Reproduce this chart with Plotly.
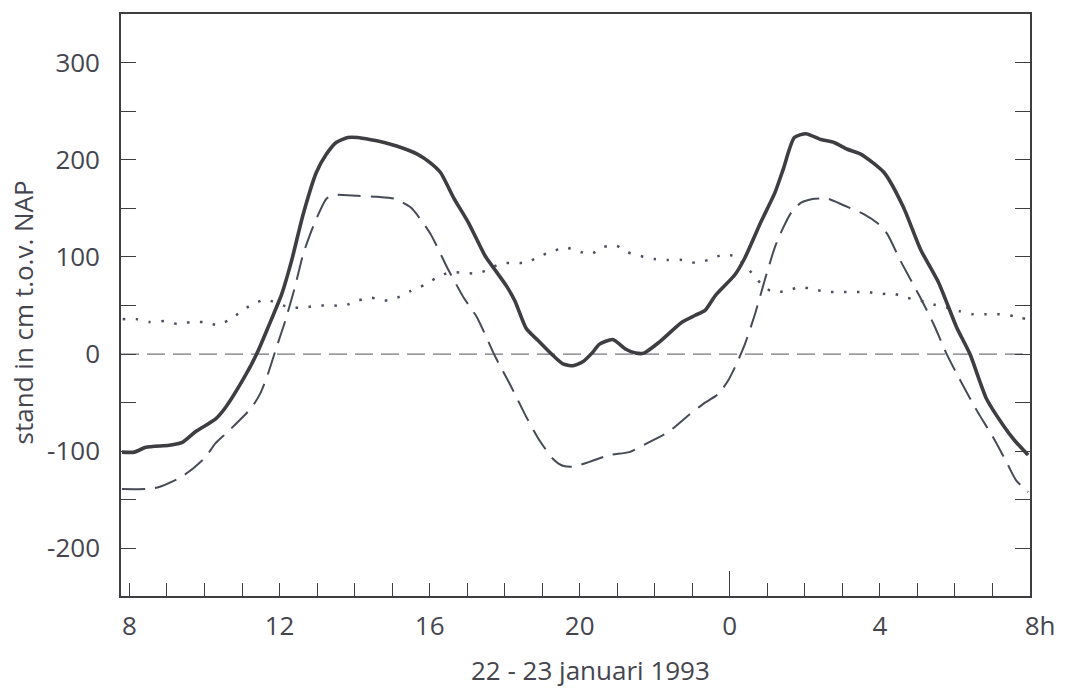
import plotly.graph_objects as go

# Hours since 22 Jan 1993 08:00 (0 = 8h, 16 = midnight, 24 = 8h next day)
hours_range = [-0.225, 24.0]
tick_hours = [0, 4, 8, 12, 16, 20, 24]
tick_labels = ["8", "12", "16", "20", "0", "4", "\u00a0\u00a0\u00a08h"]

# Measured water level (cm relative to NAP)
measured_h = [-0.2, 0.13, 0.44, 1.06, 1.41, 1.76, 2.29, 2.56, 3.09, 3.39, 3.70, 4.06,
              4.32, 4.63, 4.98, 5.25, 5.51, 5.82, 6.08, 6.79, 7.14, 7.67, 8.02, 8.29,
              8.64, 9.04, 9.48, 9.70, 10.05, 10.27, 10.58, 10.89, 11.29, 11.55, 11.82,
              12.08, 12.35, 12.52, 12.88, 13.23, 13.49, 13.71, 14.11, 14.73, 15.08,
              15.34, 15.61, 16.14, 16.40, 16.84, 17.20, 17.42, 17.72, 18.03, 18.43,
              18.78, 19.13, 19.49, 20.11, 20.63, 21.08, 21.56, 22.04, 22.40, 22.84,
              23.28, 23.59, 23.95]
measured_cm = [-101, -101, -96, -94, -91, -80, -67, -55, -22, 0, 28, 62,
               96, 144, 187, 206, 218, 223, 223, 218, 214, 206, 197, 187,
               161, 135, 101, 89, 70, 55, 26, 14, -1.5, -10, -12,
               -8, 2, 10, 15, 5, 1, 1, 12, 33, 40,
               45, 60, 82, 99, 137, 166, 190, 223, 227, 221,
               218, 211, 206, 187, 151, 108, 74, 28, 0, -46,
               -73, -89, -104]

# Astronomical tide (cm relative to NAP)
tide_h = [-0.2, 0.44, 0.79, 1.32, 1.59, 2.03, 2.29, 2.65, 3.26, 3.48, 3.66, 3.92,
          4.15, 4.41, 4.63, 4.85, 5.07, 5.25, 5.47, 6.08, 6.61, 7.06, 7.50, 8.02,
          8.47, 8.91, 9.26, 9.74, 10.14, 10.58, 10.93, 11.29, 11.55, 11.82, 12.26,
          12.79, 13.32, 13.84, 14.37, 14.90, 15.34, 15.70, 15.96, 16.18, 16.40,
          16.67, 16.93, 17.20, 17.42, 17.64, 17.90, 18.25, 18.61, 19.05, 19.58,
          19.93, 20.19, 20.55, 21.08, 21.43, 21.78, 22.14, 22.58, 23.02, 23.37,
          23.63, 23.95]
tide_cm = [-139, -139, -137, -128, -121, -106, -92, -79, -55, -41, -24, 7,
           34, 69, 103, 127, 147, 160, 164, 163, 162, 160, 151, 124,
           89, 58, 38, -2, -31, -65, -89, -108, -115, -116, -111,
           -104, -101, -91, -80, -63, -50, -41, -27, -10, 10,
           41, 76, 110, 130, 146, 156, 160, 160, 153, 144,
           135, 124, 96, 58, 31, 0, -27, -58, -86, -111,
           -130, -142]

# Surge (cm)
surge_h = [-0.18, 0.18, 0.53, 0.93, 1.28, 1.63, 1.98, 2.34, 2.65, 2.95, 3.26, 3.62,
           4.28, 4.67, 5.03, 5.38, 5.73, 6.08, 6.44, 6.79, 7.14, 7.50, 7.85, 8.16,
           8.51, 8.82, 9.17, 9.52, 9.88, 10.23, 10.58, 10.93, 11.24, 11.60, 11.95,
           12.30, 12.61, 12.96, 13.27, 13.62, 13.98, 14.33, 14.73, 15.08, 15.43,
           15.79, 16.14, 16.36, 16.62, 16.89, 17.15, 17.51, 17.86, 18.21, 18.56,
           18.96, 19.31, 19.66, 20.02, 20.37, 20.72, 21.08, 21.43, 21.78, 22.14,
           22.49, 22.84, 23.19, 23.59, 23.9]
surge_cm = [36, 36, 33, 34, 31, 33, 33, 30, 35, 43, 51, 56,
            48, 48, 50, 50, 50, 55, 58, 55, 58, 65, 71, 78,
            84, 84, 83, 86, 93, 94, 94, 101, 105, 110, 106,
            103, 110, 112, 105, 101, 98, 97, 97, 94, 97,
            102, 101, 93, 82, 70, 64, 65, 69, 67, 64,
            64, 64, 64, 62, 62, 58, 55, 51, 48, 44,
            41, 41, 41, 39, 36]

cm_range = [-249.2, 350.3]
cm_ticks = [-200, -100, 0, 100, 200, 300]
cm_labels = ["-200", "-100", "0", "100", "200", "300"]
cm_minor = [-250, -200, -150, -100, -50, 0, 50, 100, 150, 200, 250, 300]
midnight = [16]

ink = "#3e3e42"
text_col = "#45454f"
font = "Open Sans"

fig = go.Figure()

fig.add_trace(go.Scatter(
    x=surge_h, y=surge_cm, mode="lines",
    line=dict(color="#4a4f5c", width=2.5, dash="2.5px,10.5px", shape="spline", smoothing=0.6),
    hoverinfo="skip", showlegend=False))

fig.add_trace(go.Scatter(
    x=tide_h, y=tide_cm, mode="lines",
    line=dict(color="#474b57", width=2.0, dash="23px,10px", shape="spline", smoothing=0.6),
    hoverinfo="skip", showlegend=False))

fig.add_trace(go.Scatter(
    x=measured_h, y=measured_cm, mode="lines",
    line=dict(color=ink, width=3.6, shape="spline", smoothing=0.6),
    hoverinfo="skip", showlegend=False))

# carrier trace for the overlay axes (midnight tick, right-hand ticks)
fig.add_trace(go.Scatter(x=[None], y=[None], xaxis="x2", yaxis="y2",
                         mode="lines", hoverinfo="skip", showlegend=False))

# NAP reference level
fig.add_shape(type="line", xref="paper", x0=0, x1=1, yref="y", y0=0, y1=0,
              line=dict(color="#76767c", width=1.3, dash="18px,8px"), layer="below")

axis_font = dict(family=font, size=26, color=text_col)

fig.update_layout(
    width=1068, height=690,
    margin=dict(l=121, r=32, t=13, b=94),
    paper_bgcolor="white", plot_bgcolor="white",
    xaxis=dict(
        range=hours_range, tickmode="array", tickvals=tick_hours, ticktext=tick_labels,
        ticks="inside", ticklen=13, tickwidth=1.4, tickcolor=ink,
        minor=dict(dtick=1, tick0=0, ticks="inside", ticklen=13, tickwidth=1.4, tickcolor=ink),
        showline=True, linecolor=ink, linewidth=1.6, mirror=True,
        showgrid=False, zeroline=False, tickfont=axis_font, ticklabelstandoff=6),
    yaxis=dict(
        range=cm_range, tickmode="array", tickvals=cm_ticks, ticktext=cm_labels,
        ticks="inside", ticklen=15, tickwidth=1.4, tickcolor=ink,
        minor=dict(tickmode="array", tickvals=cm_minor, ticks="inside", ticklen=15,
                   tickwidth=1.4, tickcolor=ink),
        showline=True, linecolor=ink, linewidth=1.6, mirror=True,
        showgrid=False, zeroline=False, tickfont=axis_font, ticklabelstandoff=14),
    xaxis2=dict(
        range=hours_range, overlaying="x", side="bottom", anchor="y",
        tickmode="array", tickvals=midnight, ticks="inside", ticklen=25,
        tickwidth=1.4, tickcolor=ink, showticklabels=False,
        showline=False, showgrid=False, zeroline=False),
    yaxis2=dict(
        range=cm_range, overlaying="y", side="right", anchor="x2",
        tickmode="array", tickvals=cm_minor, ticks="inside", ticklen=15,
        tickwidth=1.4, tickcolor=ink, showticklabels=False,
        showline=False, showgrid=False, zeroline=False),
    annotations=[
        dict(text="22 - 23 januari 1993", xref="paper", yref="paper",
             x=0.517, y=-0.127, xanchor="center", yanchor="middle", showarrow=False,
             font=dict(family=font, size=26, color=text_col)),
        dict(text="stand in cm t.o.v. NAP", xref="paper", yref="paper",
             x=-0.108, y=0.487, xanchor="center", yanchor="middle", textangle=-90,
             showarrow=False, font=dict(family=font, size=26, color=text_col)),
    ],
)

fig.write_html("out.html")
